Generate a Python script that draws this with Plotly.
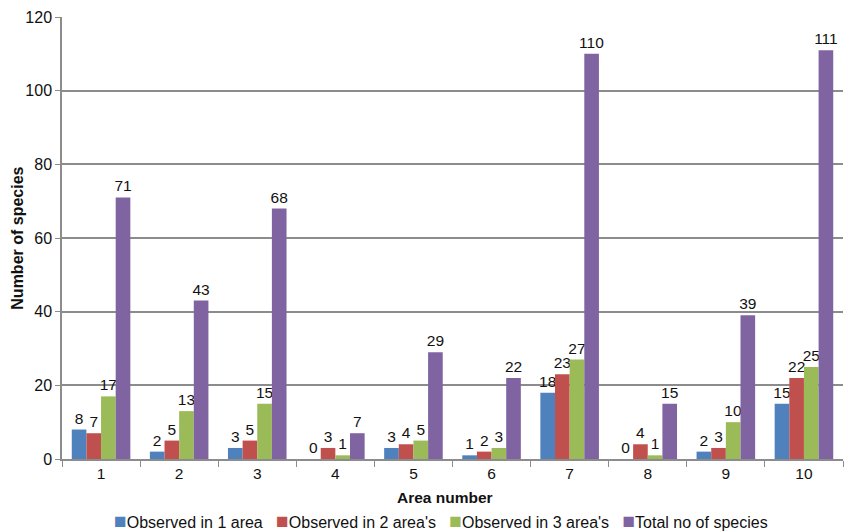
import plotly.graph_objects as go

areas = ["1", "2", "3", "4", "5", "6", "7", "8", "9", "10"]
obs1 = [8, 2, 3, 0, 3, 1, 18, 0, 2, 15]
obs2 = [7, 5, 5, 3, 4, 2, 23, 4, 3, 22]
obs3 = [17, 13, 15, 1, 5, 3, 27, 1, 10, 25]
total = [71, 43, 68, 7, 29, 22, 110, 15, 39, 111]

series = [
    ("Observed in 1 area", obs1, "#4F81BD"),
    ("Observed in 2 area's", obs2, "#C0504D"),
    ("Observed in 3 area's", obs3, "#9BBB59"),
    ("Total no of species", total, "#8064A2"),
]

FONT = "Liberation Sans, Arial"
fig = go.Figure()
for name, vals, col in series:
    fig.add_trace(go.Bar(
        x=areas, y=vals, name=name,
        marker=dict(color=col, line=dict(width=0)),
        text=[str(v) for v in vals], textposition="outside",
        constraintext="none",
        textfont=dict(family=FONT, size=15.5, color="#111111"),
        cliponaxis=False, showlegend=False,
    ))

# legend built as text with coloured squares
legend_html = "&nbsp;&nbsp;&nbsp;".join(
    f"<span style='color:{col};font-size:21px'>■</span>{name}" for name, _, col in series
)

fig.update_layout(
    width=855, height=531,
    margin=dict(l=62, r=12, t=17, b=72, autoexpand=False),
    paper_bgcolor="white", plot_bgcolor="white",
    barmode="group", bargap=0.25, bargroupgap=0.0,
    font=dict(family=FONT, size=15.5, color="#111111"),
    xaxis=dict(
        automargin=False,
        showline=True, linecolor="#8C8C8C", linewidth=1.5,
        ticks="outside", ticklen=6, tickcolor="#8C8C8C", tickson="boundaries",
        tickfont=dict(size=15.5), showgrid=False,
    ),
    yaxis=dict(
        automargin=False,
        range=[0, 120], dtick=20,
        showline=True, linecolor="#8C8C8C", linewidth=1.5,
        ticks="outside", ticklen=5, tickcolor="#8C8C8C",
        tickfont=dict(size=16),
        showgrid=True, gridcolor="#8C8C8C", gridwidth=1.5,
        zeroline=False,
    ),
    annotations=[
        dict(text="<b>Area number</b>", xref="paper", yref="paper",
             x=0.49, y=-0.086, xanchor="center", yanchor="middle",
             showarrow=False, font=dict(size=15.5)),
        dict(text="<b>Number of species</b>", xref="paper", yref="paper",
             x=-0.058, y=0.5, xanchor="center", yanchor="middle", textangle=-90,
             showarrow=False, font=dict(size=16)),
        dict(text=legend_html, xref="paper", yref="paper",
             x=0.485, y=-0.140, xanchor="center", yanchor="middle",
             showarrow=False, font=dict(size=16)),
    ],
)

fig.write_html("out.html")
